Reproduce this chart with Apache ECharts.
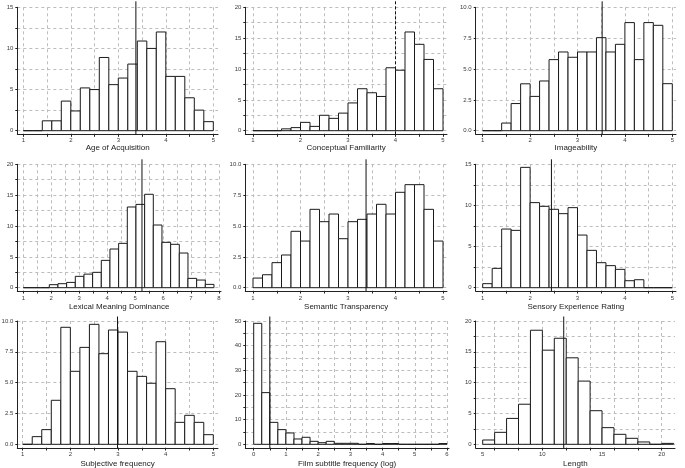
<!DOCTYPE html>
<html><head><meta charset="utf-8">
<script src="https://cdn.jsdelivr.net/npm/echarts@6/dist/echarts.min.js"></script>
<style>html,body{margin:0;padding:0;background:#fff}#c{width:685px;height:468px}</style>
</head><body><div id="c"></div>
<script>
// ---------------- data ----------------
const titles = ['Age of Acquisition','Conceptual Familiarity','Imageability',
  'Lexical Meaning Dominance','Semantic Transparency','Sensory Experience Rating',
  'Subjective frequency','Film subtitle frequency (log)','Length'];

// histogram bins: start, width, percentages
const aoaValues      = [0,0,1.2,1.2,3.6,2.4,5.2,5.0,8.9,5.6,6.4,8.1,10.9,10.0,12.0,6.6,6.6,4.0,2.5,1.1];
const concFamValues  = [0,0,0,0.3,0.5,1.35,0.7,2.5,2.0,2.85,4.5,6.8,6.15,5.55,10.2,9.8,16.0,14.0,11.55,6.8];
const imageValues    = [0,0,0.62,2.2,3.8,2.78,4.03,5.76,6.38,5.95,6.38,6.38,7.54,6.38,7.0,8.76,5.76,8.76,8.54,3.81];
const lexDomValues   = [0,0,0,0.49,0.65,0.86,1.84,2.2,2.49,4.43,6.27,7.19,13.08,13.5,15.14,10.16,7.35,7.03,5.62,1.51,1.24,0.54];
const semTransValues = [0.78,1.05,2.03,2.65,4.57,3.78,6.35,5.35,5.97,3.97,5.35,5.54,5.97,6.76,5.97,7.73,8.35,8.35,6.35,3.78];
const sensoryValues  = [0.49,2.35,7.13,6.97,14.63,10.34,9.89,9.53,9.0,9.73,6.4,4.54,3.04,2.68,2.23,0.85,0.97,0,0,0];
const subjFreqValues = [0,0.62,1.19,3.57,9.49,5.92,7.86,9.73,7.35,9.27,9.1,5.92,5.51,4.95,8.32,4.51,1.78,2.35,1.78,0.78];
const filmValues     = [49.05,20.95,8.9,5.95,4.6,2.16,2.84,1.2,0.65,1.2,0.4,0.4,0.4,0,0.3,0,0.3,0.3,0,0,0,0,0,0.3];
const lengthValues   = [0.7,1.94,4.2,6.5,18.5,15.27,17.2,14.03,10.25,5.45,2.7,1.62,0.97,0.38,0,0.15];

const binStarts = [1,1,1, 1,1,1, 1,0,5];
const binWidths = [0.2,0.2,0.2, 0.31,0.2,0.2, 0.2,0.25,1];
const means     = [3.37,4.0,3.52, 5.245,3.38,2.45, 2.99,0.5,11.79];
const meanDashed = [false,true,false, false,false,false, false,false,false];

// tick values
const ticks1to5   = [1,1.5,2,2.5,3,3.5,4,4.5,5];
const labels1to5  = [1,2,3,4,5];
const ticks1to8   = [1,1.5,2,2.5,3,3.5,4,4.5,5,5.5,6,6.5,7,7.5,8];
const labels1to8  = [1,2,3,4,5,6,7,8];
const ticks0to6   = [0,0.5,1,1.5,2,2.5,3,3.5,4,4.5,5,5.5,6];
const labels0to6  = [0,1,2,3,4,5,6];
const ticksLength = [6,8,10,12,14,16,18,20];
const labelsLength= [5,10,15,20];
const yTicks15 = [0,2.5,5,7.5,10,12.5,15];
const yLabels15 = [0,5,10,15];
const yTicks20 = [0,2.5,5,7.5,10,12.5,15,17.5,20];
const yLabels20 = [0,5,10,15,20];
const yTicks10 = [0,2.5,5,7.5,10];
const yLabels10 = [0,2.5,5,7.5,10];
const yTicks50 = [0,5,10,15,20,25,30,35,40,45,50];
const yLabels50 = [0,10,20,30,40,50];

const allValues = [aoaValues,concFamValues,imageValues,lexDomValues,semTransValues,sensoryValues,subjFreqValues,filmValues,lengthValues];
const xTicks  = [ticks1to5,ticks1to5,ticks1to5, ticks1to8,ticks1to5,ticks1to5, ticks1to5,ticks0to6,ticksLength];
const xLabels = [labels1to5,labels1to5,labels1to5, labels1to8,labels1to5,labels1to5, labels1to5,labels0to6,labelsLength];
const yTicks  = [yTicks15,yTicks20,yTicks10, yTicks20,yTicks10,yTicks15, yTicks10,yTicks50,yTicks20];
const yLabels = [yLabels15,yLabels20,yLabels10, yLabels20,yLabels10,yLabels15, yLabels10,yLabels50,yLabels20];
const yDecimals = [0,0,1, 0,1,0, 1,0,0];

// ---------------- layout (pixels) ----------------
const layouts = [
  {left:17.3, right:218, top:7.3,  bottom:134.3, xa:23.3,  xb:213.3, ya:130.7, over:6, lm:3,   ng:9},
  {left:245.3,right:447, top:7.3,  bottom:134.3, xa:253,   xb:443,   ya:130.7, over:6, lm:3,   ng:9},
  {left:475.7,right:676, top:7.3,  bottom:134.3, xa:482.7, xb:672.3, ya:130.7, over:6, lm:3,   ng:9},
  {left:17.3, right:221, top:164.3,bottom:291,   xa:23.3,  xb:219,   ya:287.7, over:5, lm:4.5, ng:11.5},
  {left:245.3,right:447, top:164.3,bottom:291,   xa:253,   xb:443,   ya:287.7, over:5, lm:4.5, ng:11.5},
  {left:475.7,right:676, top:164.3,bottom:291,   xa:482.7, xb:672.3, ya:287.7, over:5, lm:4.5, ng:11.5},
  {left:17.3, right:218, top:321,  bottom:448,   xa:22.7,  xb:213.3, ya:444.3, over:4.5, lm:3.5, ng:11.3},
  {left:245.3,right:449, top:321,  bottom:448,   xa:253.7, xb:447,   ya:444.3, over:4.5, lm:3.5, ng:11.3},
  {left:475.7,right:675, top:321,  bottom:448,   xa:482.7, xb:661.7, ya:444.3, over:4.5, lm:3.5, ng:11.3}
];

const FONT = '"Liberation Sans", Arial, sans-serif';
const grids = [], xAxes = [], yAxes = [], series = [];

layouts.forEach((L, i) => {
  const xl = xLabels[i], yt = yTicks[i];
  const xaV = xl[0], xbV = xl[xl.length - 1];
  const sx = (L.xb - L.xa) / (xbV - xaV);
  const xmin = xaV - (L.xa - L.left) / sx;
  const xmax = xbV + (L.right - L.xb) / sx;
  const yTop = yt[yt.length - 1];
  const sy = (L.ya - L.top) / yTop;
  const ymin = -(L.bottom - L.ya) / sy;

  grids.push({left: L.left, top: L.top, width: L.right - L.left, height: L.bottom - L.top,
    containLabel: false, outerBoundsMode: 'none'});

  const dec = yDecimals[i];
  xAxes.push({
    type: 'value', gridIndex: i, min: xmin, max: xmax,
    name: titles[i], nameLocation: 'middle', nameGap: L.ng,
    nameTextStyle: {fontSize: 8, color: '#222', fontFamily: FONT},
    axisLine: {show: true, onZero: false, lineStyle: {color: '#222', width: 1}},
    axisTick: {show: true, length: 2.5, customValues: xTicks[i], lineStyle: {color: '#222', width: 1}},
    axisLabel: {show: true, customValues: xl, fontSize: 6, color: '#3a3a3a', margin: L.lm, fontFamily: FONT,
      formatter: v => String(v)},
    splitLine: {show: true, lineStyle: {color: '#bdbdbd', width: 1, type: [3, 3]}}
  });
  yAxes.push({
    type: 'value', gridIndex: i, min: ymin, max: yTop,
    axisLine: {show: true, onZero: false, lineStyle: {color: '#222', width: 1}},
    axisTick: {show: true, length: 2, customValues: yt, lineStyle: {color: '#222', width: 1}},
    axisLabel: {show: true, customValues: yLabels[i], fontSize: 6, color: '#3a3a3a', margin: 4, fontFamily: FONT,
      formatter: v => dec ? Number(v).toFixed(dec) : String(v)},
    splitLine: {show: true, lineStyle: {color: '#bdbdbd', width: 1, type: [3, 3]}}
  });

  const vals = allValues[i];
  const data = vals.map((v, k) => [binStarts[i] + k * binWidths[i], binStarts[i] + (k + 1) * binWidths[i], v]);
  series.push({
    type: 'custom', xAxisIndex: i, yAxisIndex: i, data: data, encode: {x: [0, 1], y: 2},
    silent: true,
    renderItem: (params, api) => {
      const p0 = api.coord([api.value(0), api.value(2)]);
      const p1 = api.coord([api.value(1), 0]);
      return {type: 'rect', shape: {x: p0[0], y: p0[1], width: p1[0] - p0[0], height: p1[1] - p0[1]},
        style: {fill: '#fff', stroke: '#1a1a1a', lineWidth: 1}};
    }
  });
  const over = L.over, dashed = meanDashed[i];
  series.push({
    type: 'custom', xAxisIndex: i, yAxisIndex: i, data: [[means[i]]], encode: {x: 0},
    silent: true, clip: false, z: 5,
    renderItem: (params, api) => {
      const x = api.coord([api.value(0), 0])[0];
      const cs = params.coordSys;
      return {type: 'line', shape: {x1: x, y1: cs.y + cs.height, x2: x, y2: cs.y - over},
        style: {stroke: '#111', lineWidth: 1, lineDash: dashed ? [3, 2] : null}};
    }
  });
});

const chart = echarts.init(document.getElementById('c'), null, {renderer: 'canvas'});
chart.setOption({
  backgroundColor: '#fff',
  animation: false,
  textStyle: {fontFamily: FONT},
  grid: grids, xAxis: xAxes, yAxis: yAxes, series: series
});
</script></body></html>
